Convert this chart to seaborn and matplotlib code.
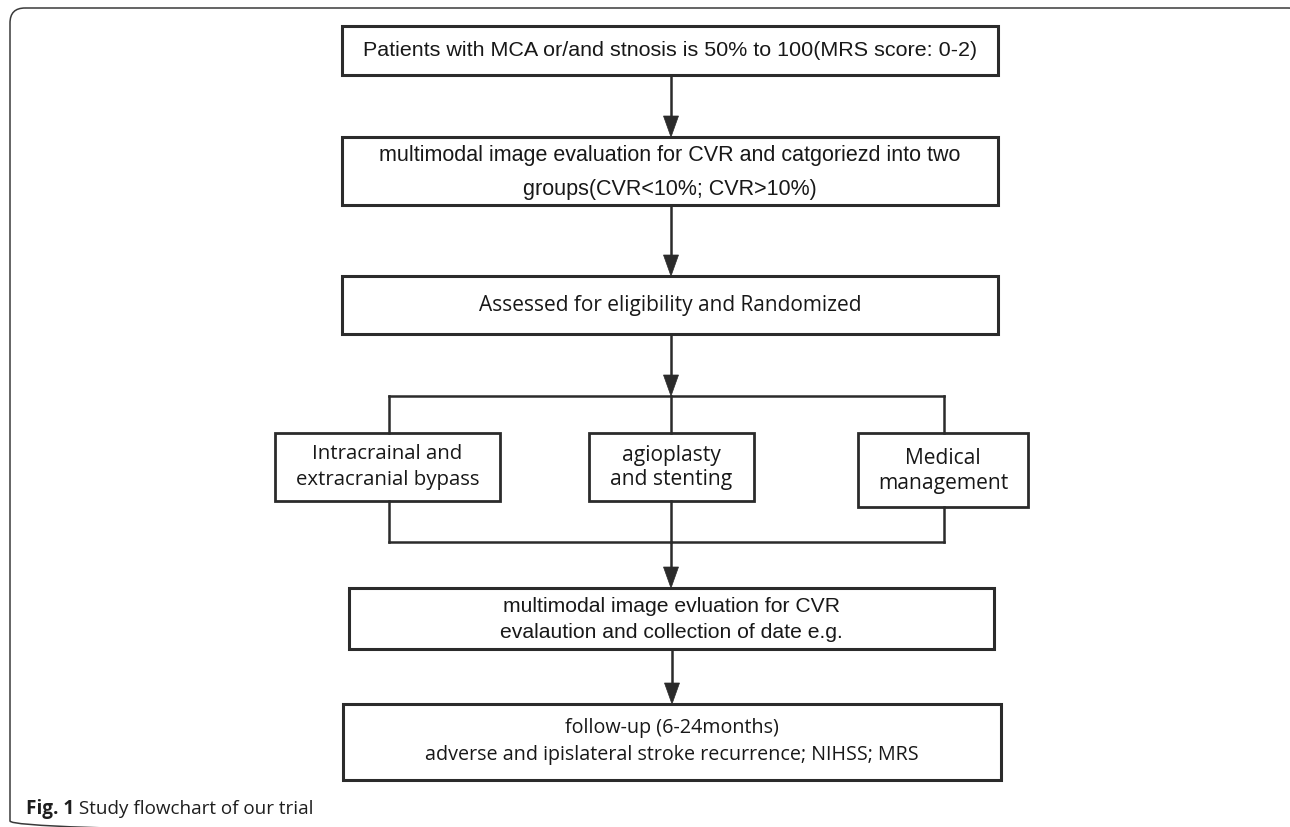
import matplotlib
matplotlib.use("Agg")
import matplotlib.pyplot as plt
import seaborn as sns
from matplotlib.patches import Rectangle, FancyBboxPatch, Polygon
from matplotlib import font_manager

sns.set_theme(style="white")

# ---------------- content ----------------
top_labels = [
    ["Patients with MCA or/and stnosis is 50% to 100(MRS score: 0-2)"],
    ["multimodal image evaluation for CVR and catgoriezd into two", "groups(CVR<10%; CVR>10%)"],
    ["Assessed for eligibility and Randomized"],
]
arm_labels = [
    ["Intracrainal and", "extracranial bypass"],
    ["agioplasty", "and stenting"],
    ["Medical", "management"],
]
bottom_labels = [
    ["multimodal image evluation for CVR", "evalaution and collection of date e.g."],
    ["follow-up (6-24months)", "adverse and ipislateral stroke recurrence; NIHSS; MRS"],
]
caption_bold = "Fig. 1"
caption_text = " Study flowchart of our trial"

# ---------------- fonts ----------------
names = {f.name for f in font_manager.fontManager.ttflist}
NARROW = "Liberation Sans Narrow" if "Liberation Sans Narrow" in names else "Liberation Sans"
ARIAL = "Liberation Sans"
HUMAN = "Noto Sans CJK SC" if "Noto Sans CJK SC" in names else "Open Sans"
CAP = "Open Sans" if "Open Sans" in names else "DejaVu Sans"

# ---------------- layout (pixels, y downward) ----------------
W, H = 1290, 827
INK = "#2b2b2b"

fig = plt.figure(figsize=(W / 100, H / 100), dpi=100)
ax = fig.add_axes([0, 0, 1, 1])
ax.set_xlim(0, W)
ax.set_ylim(H, 0)
ax.axis("off")
renderer = fig.canvas.get_renderer()


def text_width(s, family, size, weight="normal"):
    t = ax.text(0, 0, s, fontsize=size, family=family, weight=weight)
    w = t.get_window_extent(renderer).width
    t.remove()
    return w


def fit_size(lines, family, target, weight="normal"):
    widest = max(lines, key=lambda s: text_width(s, family, 12, weight))
    return 12 * target / text_width(widest, family, 12, weight)


def box(x0, y0, x1, y1, lw=2.0):
    ax.add_patch(Rectangle((x0, y0), x1 - x0, y1 - y0, fill=False,
                           edgecolor=INK, linewidth=lw, joinstyle="miter"))


def lines_in(lines, cx, ys, family, target):
    fs = fit_size(lines, family, target)
    for s, y in zip(lines, ys):
        ax.text(cx, y, s, ha="center", va="center", fontsize=fs,
                family=family, color="#181818")


def seg(x0, y0, x1, y1):
    ax.plot([x0, x1], [y0, y1], color=INK, linewidth=1.8, solid_capstyle="projecting")


def arrow(x, y0, y1, hl=21, hw=7.5):
    seg(x, y0, x, y1 - hl + 2)
    ax.add_patch(Polygon([[x - hw, y1 - hl], [x + hw, y1 - hl], [x, y1]],
                         closed=True, facecolor=INK, edgecolor=INK, linewidth=0.5))


# outer frame (right and bottom edges run past the image)
ax.add_patch(FancyBboxPatch((10, 8), 1303 - 10, 836 - 8,
                            boxstyle="round,pad=0,rounding_size=15",
                            fill=False, edgecolor="#3a3a3a", linewidth=1.1))

# top boxes
top_boxes = [(342, 26, 998, 75), (342, 137, 998, 205), (342, 276, 998, 334)]
top_ys = [[51], [155, 190], [306]]
top_fonts = [NARROW, NARROW, HUMAN]
top_targets = [614, 586, 382]
for b, lab, ys, fam, tw in zip(top_boxes, top_labels, top_ys, top_fonts, top_targets):
    box(*b, lw=2.2)
    lines_in(lab, (b[0] + b[2]) / 2, ys, fam, tw)

CX = 671
arrow(CX, 75, 137)
arrow(CX, 205, 276)
arrow(CX, 334, 396)

# arms
arm_boxes = [(275, 433, 500, 501), (589, 433, 754, 501), (858, 433, 1028, 507)]
arm_ys = [[454, 480], [455, 480], [458, 483]]
arm_targets = [183, 122, 130]
arm_cx = [389, CX, 944]
seg(arm_cx[0], 396, arm_cx[-1], 396)
seg(arm_cx[0], 542, arm_cx[-1], 542)
for b, lab, ys, tw, cx in zip(arm_boxes, arm_labels, arm_ys, arm_targets, arm_cx):
    seg(cx, 396, cx, b[1])
    seg(cx, b[3], cx, 542)
    box(*b, lw=2.0)
    lines_in(lab, (b[0] + b[2]) / 2, ys, HUMAN, tw)

arrow(CX, 542, 588)

# bottom boxes
bottom_boxes = [(349, 588, 994, 649), (343, 704, 1001, 780)]
bottom_ys = [[607, 632], [728, 755]]
bottom_fonts = [ARIAL, HUMAN]
bottom_targets = [345, 492]
for b, lab, ys, fam, tw in zip(bottom_boxes, bottom_labels, bottom_ys, bottom_fonts, bottom_targets):
    box(*b, lw=2.2)
    lines_in(lab, (b[0] + b[2]) / 2, ys, fam, tw)

arrow(672, 649, 704)

# caption
full_w12 = text_width(caption_bold, CAP, 12, "bold") + text_width(caption_text, CAP, 12)
cfs = 12 * 287 / full_w12
t1 = ax.text(26, 814, caption_bold, fontsize=cfs, family=CAP, weight="bold",
             va="baseline", ha="left", color="#1e1e1e")
bw = t1.get_window_extent(renderer).width
ax.text(26 + bw, 814, caption_text, fontsize=cfs, family=CAP,
        va="baseline", ha="left", color="#1e1e1e")

fig.savefig("out.png", dpi=100, facecolor="white")
